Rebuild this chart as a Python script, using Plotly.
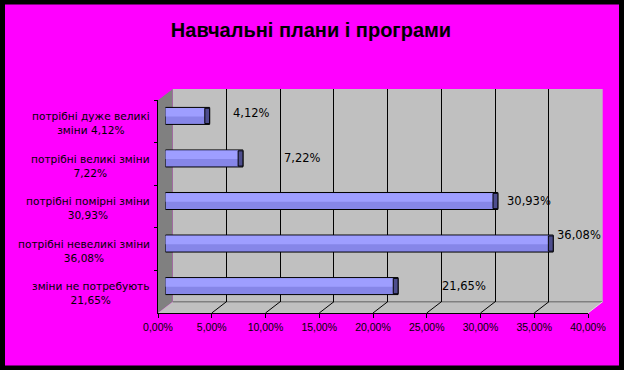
import plotly.graph_objects as go

# ---------------- data ----------------
CATEGORIES = [
    "потрібні дуже великі<br>зміни 4,12%",
    "потрібні великі зміни<br>7,22%",
    "потрібні помірні зміни<br>30,93%",
    "потрібні невеликі зміни<br>36,08%",
    "зміни не потребують<br>21,65%",
]
VALUES = [4.12, 7.22, 30.93, 36.08, 21.65]
VALUE_LABELS = ["4,12%", "7,22%", "30,93%", "36,08%", "21,65%"]
TICK_VALUES = [0, 5, 10, 15, 20, 25, 30, 35, 40]
TICK_TEXT = ["0,00%", "5,00%", "10,00%", "15,00%", "20,00%",
             "25,00%", "30,00%", "35,00%", "40,00%"]
TITLE = "Навчальні плани і програми"

# ---------------- styling / geometry ----------------
W, H = 624, 370
FONT = "Arial, Liberation Sans, sans-serif"
FONT_WIDE = "DejaVu Sans, Verdana, sans-serif"
BACK = (172.7, 602.7, 89.0, 301.7)   # x0, x1, ytop, ybot in px
DEPTH_DX, DEPTH_DY = -14.7, 11.3
LABEL_DX = [21, 39, 7, 2, 42]
LABEL_DY = [3, 0, 0, 9, 0]
XMAX = 40


def plane(f):
    x0, x1, yt, yb = BACK
    return (x0 + DEPTH_DX * f, x1 + DEPTH_DX * f, yt + DEPTH_DY * f, yb + DEPTH_DY * f)


def xdom(p):
    return [p[0] / W, p[1] / W]


def ydom(p):
    return [1 - p[3] / H, 1 - p[2] / H]


def PX(x):
    return x / W


def PY(y):
    return 1 - y / H


back, mid, front = plane(0), plane(0.5), plane(1)

fig = go.Figure()

# bars on the middle depth plane (x2/y2)
fig.add_trace(go.Bar(
    x=VALUES, y=CATEGORIES, orientation="h", xaxis="x2", yaxis="y2",
    width=0.4, marker=dict(color="#8686E8", line=dict(color="black", width=1)),
    hoverinfo="skip", showlegend=False))
fig.add_trace(go.Bar(
    x=VALUES, y=CATEGORIES, orientation="h", xaxis="x2", yaxis="y2",
    width=0.2, offset=-0.185,
    marker=dict(color="#9E9EFF", line=dict(width=0)),
    hoverinfo="skip", showlegend=False))
CAP = 0.45
fig.add_trace(go.Bar(
    x=[CAP] * len(VALUES), base=[v - CAP for v in VALUES], y=CATEGORIES,
    orientation="h", xaxis="x2", yaxis="y2", width=0.36,
    marker=dict(color="#4E4E8E", line=dict(color="black", width=1)),
    hoverinfo="skip", showlegend=False))
# front plane axes (x3/y3)
fig.add_trace(go.Scatter(
    x=VALUES, y=CATEGORIES, xaxis="x3", yaxis="y3", mode="markers",
    marker=dict(opacity=0), hoverinfo="skip", showlegend=False))
# back wall (x/y)
fig.add_trace(go.Scatter(
    x=VALUES, y=CATEGORIES, xaxis="x", yaxis="y", mode="markers",
    marker=dict(opacity=0), hoverinfo="skip", showlegend=False))

shapes = [
    dict(type="rect", xref="paper", yref="paper", x0=PX(5), x1=PX(619),
         y0=PY(365.5), y1=PY(4.5), fillcolor="#FF00FF", line=dict(width=0), layer="below"),
    # back wall
    dict(type="rect", xref="paper", yref="paper", x0=PX(back[0]), x1=PX(back[1]),
         y0=PY(back[3]), y1=PY(back[2]), fillcolor="#C0C0C0", line=dict(width=0), layer="below"),
    # side wall
    dict(type="path", xref="paper", yref="paper", layer="below",
         path=f"M {PX(back[0])} {PY(back[2])} L {PX(front[0])} {PY(front[2])} "
              f"L {PX(front[0])} {PY(front[3])} L {PX(back[0])} {PY(back[3])} Z",
         fillcolor="#808080", line=dict(width=0)),
    # floor
    dict(type="path", xref="paper", yref="paper", layer="below",
         path=f"M {PX(back[0])} {PY(back[3])} L {PX(back[1])} {PY(back[3])} "
              f"L {PX(front[1])} {PY(front[3])} L {PX(front[0])} {PY(front[3])} Z",
         fillcolor="#C0C0C0", line=dict(width=0)),
    dict(type="line", xref="paper", yref="paper", layer="below",
         x0=PX(back[0]), x1=PX(back[1]), y0=PY(back[3]), y1=PY(back[3]),
         line=dict(color="#808080", width=1.5)),
    dict(type="line", xref="paper", yref="paper", layer="below",
         x0=PX(back[1]), x1=PX(front[1]), y0=PY(back[3]), y1=PY(front[3]),
         line=dict(color="#E0E0E0", width=1)),
]
for v in TICK_VALUES[1:-1]:
    xb = back[0] + (back[1] - back[0]) * v / XMAX
    xf = front[0] + (front[1] - front[0]) * v / XMAX
    shapes.append(dict(type="line", xref="paper", yref="paper", layer="below",
                       x0=PX(xb), x1=PX(xf), y0=PY(back[3]), y1=PY(front[3]),
                       line=dict(color="black", width=1)))

annotations = []
for cat, v, t, dx, dy in zip(CATEGORIES, VALUES, VALUE_LABELS, LABEL_DX, LABEL_DY):
    annotations.append(dict(x=v, y=cat, xref="x2", yref="y2", text=t, showarrow=False,
                            xanchor="left", yanchor="middle", xshift=dx, yshift=dy,
                            font=dict(family=FONT_WIDE, size=11.5, color="black")))
for cat in CATEGORIES:
    annotations.append(dict(x=PX(152), y=cat, xref="paper", yref="y3", text=cat,
                            showarrow=False, xanchor="right", yanchor="middle",
                            align="center", yshift=-1.5,
                            font=dict(family=FONT_WIDE, size=10.6, color="black")))

cat_range = [len(CATEGORIES) - 0.5, -0.5]

fig.update_layout(
    width=W, height=H, margin=dict(l=0, r=0, t=0, b=0, pad=0, autoexpand=False),
    paper_bgcolor="black", plot_bgcolor="rgba(0,0,0,0)",
    barmode="overlay", showlegend=False,
    title=dict(text=f"<b>{TITLE}</b>", x=PX(311), y=PY(30), xanchor="center",
               yanchor="middle", font=dict(family=FONT, size=20, color="black")),
    xaxis=dict(domain=xdom(back), range=[0, XMAX], anchor="y", showgrid=True,
               gridcolor="black", gridwidth=1, tickmode="array",
               tickvals=TICK_VALUES[1:-1], showticklabels=False, ticks="",
               zeroline=False, showline=False, fixedrange=True, automargin=False),
    yaxis=dict(domain=ydom(back), anchor="x", type="category", categoryarray=CATEGORIES,
               range=cat_range, visible=False, fixedrange=True, automargin=False),
    xaxis2=dict(domain=xdom(mid), range=[0, XMAX], anchor="y2", visible=False,
                fixedrange=True, automargin=False),
    yaxis2=dict(domain=ydom(mid), anchor="x2", type="category", categoryarray=CATEGORIES,
                range=cat_range, visible=False, fixedrange=True, automargin=False),
    xaxis3=dict(domain=xdom(front), range=[0, XMAX], anchor="y3", tickmode="array",
                tickvals=TICK_VALUES, ticktext=TICK_TEXT, ticks="outside", ticklen=4,
                tickcolor="black", showline=True, linecolor="black", linewidth=1,
                showgrid=False, zeroline=False, automargin=False,
                tickfont=dict(family=FONT, size=10.5, color="black"), fixedrange=True),
    yaxis3=dict(domain=ydom(front), anchor="x3", type="category", categoryarray=CATEGORIES,
                range=cat_range, showline=True, linecolor="black", linewidth=1,
                ticks="outside", ticklen=3, tickcolor="black", tickson="boundaries",
                showticklabels=False, showgrid=False, zeroline=False, fixedrange=True,
                automargin=False),
    shapes=shapes,
    annotations=annotations,
)

fig.write_html("out.html", config={"displayModeBar": False})
